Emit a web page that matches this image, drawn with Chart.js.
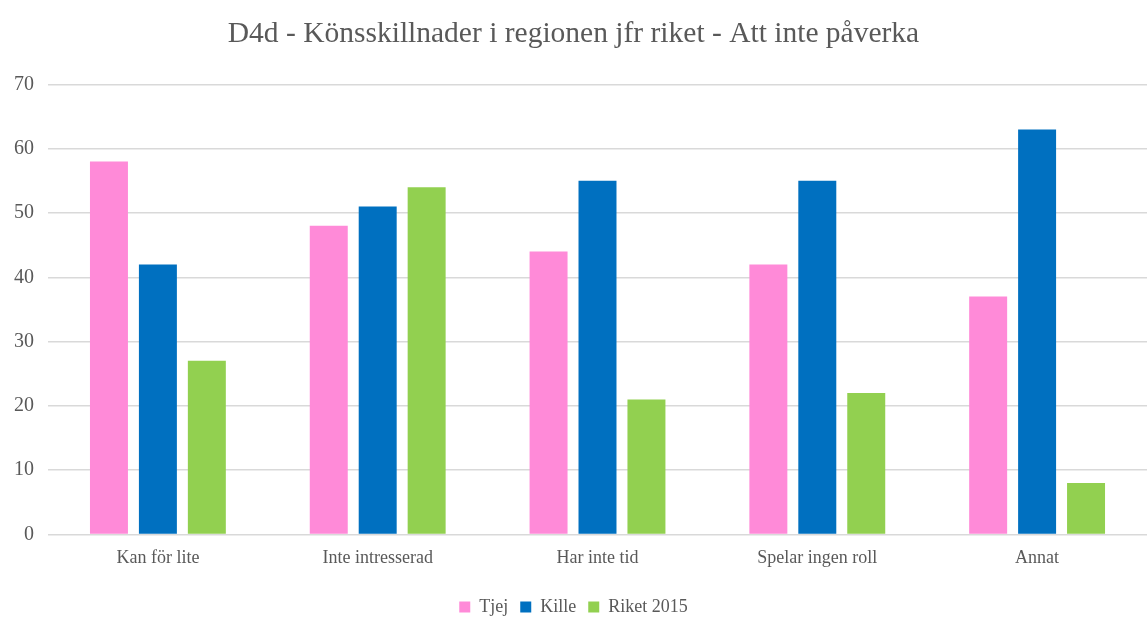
<!DOCTYPE html>
<html lang="sv">
<head>
    <meta charset="UTF-8">
    <title>D4d - Könsskillnader i regionen jfr riket - Att inte påverka</title>
    <script src="https://cdn.jsdelivr.net/npm/chart.js"></script>
    <style>
        body { margin: 0; background: #fff; }
        .chart-container { width: 1147px; height: 617px; }
    </style>
</head>
<body>
    <div class="chart-container">
        <canvas id="myChart" width="1147" height="617"></canvas>
    </div>

    <script>
        // Data
        const categories = ['Kan för lite', 'Inte intresserad', 'Har inte tid', 'Spelar ingen roll', 'Annat'];
        const tjej = [58, 48, 44, 42, 37];
        const kille = [42, 51, 55, 55, 63];
        const riket2015 = [27, 54, 21, 22, 8];
        const seriesNames = ['Tjej', 'Kille', 'Riket 2015'];

        const textColor = '#595959';
        const fontFamily = '"Liberation Serif", "Times New Roman", serif';

        const ctx = document.getElementById('myChart').getContext('2d');
        const myChart = new Chart(ctx, {
            type: 'bar',
            data: {
                labels: categories,
                datasets: [
                    { label: seriesNames[0], data: tjej, backgroundColor: '#FF8AD8' },
                    { label: seriesNames[1], data: kille, backgroundColor: '#0070C0' },
                    { label: seriesNames[2], data: riket2015, backgroundColor: '#92D050' }
                ]
            },
            options: {
                responsive: false,
                animation: false,
                categoryPercentage: 0.668,
                barPercentage: 0.776,
                layout: {
                    // negative bottom pulls the legend closer to the canvas edge
                    padding: { left: 0, right: 0, top: 13, bottom: -9 }
                },
                scales: {
                    x: {
                        grid: { display: false },
                        border: { display: false },
                        ticks: {
                            color: textColor,
                            font: { family: fontFamily, size: 18 },
                            padding: 5
                        },
                        // leave room between the category labels and the legend
                        afterFit: (scale) => { scale.height += 12; }
                    },
                    y: {
                        min: 0,
                        max: 70,
                        ticks: {
                            stepSize: 10,
                            color: textColor,
                            font: { family: fontFamily, size: 20 },
                            padding: 14
                        },
                        grid: {
                            color: '#D9D9D9',
                            lineWidth: 1.5,
                            drawTicks: false
                        },
                        border: { display: false }
                    }
                },
                plugins: {
                    title: {
                        display: true,
                        text: 'D4d - Könsskillnader i regionen jfr riket - Att inte påverka',
                        color: textColor,
                        font: { family: fontFamily, size: 29.5, weight: 'normal' },
                        padding: { top: 4, bottom: 32 }
                    },
                    legend: {
                        display: true,
                        position: 'bottom',
                        labels: {
                            color: textColor,
                            font: { family: fontFamily, size: 18 },
                            boxWidth: 11,
                            boxHeight: 11,
                            padding: 12
                        }
                    },
                    tooltip: { enabled: false }
                }
            }
        });
    </script>
</body>
</html>
